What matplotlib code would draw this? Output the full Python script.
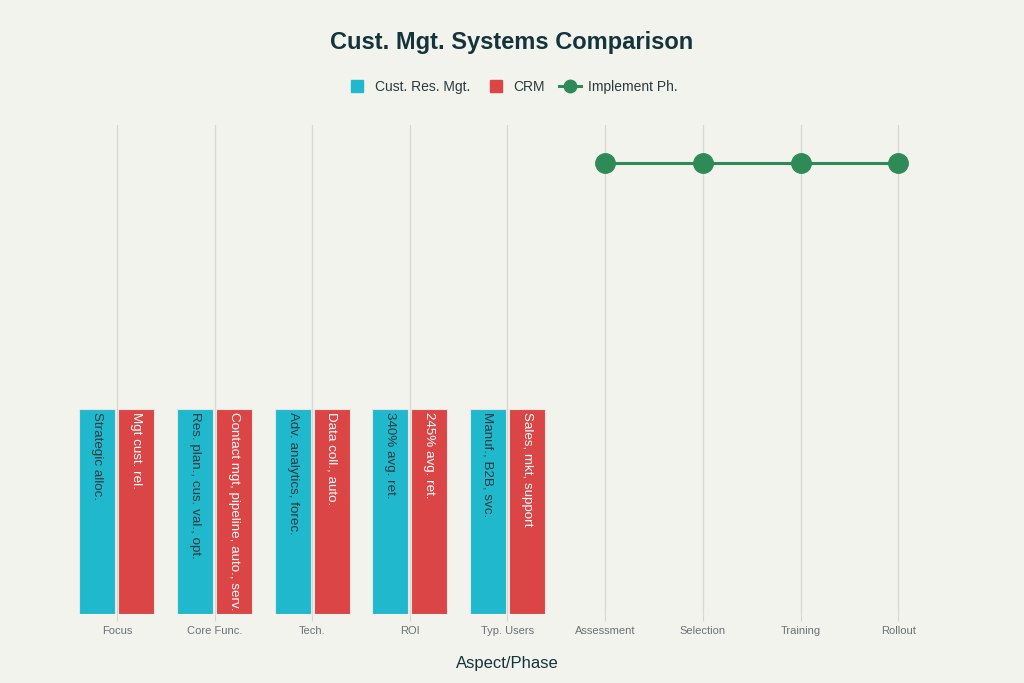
import matplotlib.pyplot as plt
from matplotlib.lines import Line2D
import numpy as np

plt.rcParams['font.family'] = ['Liberation Sans', 'DejaVu Sans']

categories = ["Focus", "Core Func.", "Tech.", "ROI", "Typ. Users",
              "Assessment", "Selection", "Training", "Rollout"]
aspects = categories[:5]
phases = categories[5:]

crm_res_vals = [1, 1, 1, 1, 1]
crm_vals = [1, 1, 1, 1, 1]
crm_res_text = ["Strategic alloc.", "Res. plan., cus. val., opt.",
                "Adv. analytics, forec.", "340% avg. ret.", "Manuf., B2B, svc."]
crm_text = ["Mgt cust. rel.", "Contact mgt, pipeline, auto., serv.",
            "Data coll., auto.", "245% avg. ret.", "Sales, mkt, support"]
phase_vals = [2.2, 2.2, 2.2, 2.2]

bg = "#F3F3EE"
cyan = "#1FB8CD"
red = "#DB4545"
green = "#2E8B57"
dark = "#13343B"


def main():
    fig = plt.figure(figsize=(10.24, 6.83), dpi=100, facecolor=bg)
    ax = fig.add_axes([68 / 1024, 1 - 614 / 683, 879 / 1024, 489 / 683])
    ax.set_facecolor(bg)

    x_all = np.arange(len(categories))
    xa = np.arange(len(aspects))
    xp = np.arange(len(aspects), len(categories))

    ax.bar(xa - 0.2, crm_res_vals, width=0.37, color=cyan,
           edgecolor="#E6E6E0", linewidth=0.8, zorder=3)
    ax.bar(xa + 0.2, crm_vals, width=0.37, color=red,
           edgecolor="#E6E6E0", linewidth=0.8, zorder=3)

    for i in range(len(aspects)):
        ax.text(xa[i] - 0.2, crm_res_vals[i] - 0.015, crm_res_text[i],
                rotation=-90, ha="center", va="top", fontsize=9.6,
                color="#2A3A3E", zorder=4)
        ax.text(xa[i] + 0.2, crm_vals[i] - 0.015, crm_text[i],
                rotation=-90, ha="center", va="top", fontsize=9.6,
                color="white", zorder=4)

    ax.plot(xp, phase_vals, color=green, linewidth=2.2, marker="o",
            markersize=14, zorder=5)

    ax.set_xlim(-0.5, len(categories) - 0.5)
    ax.set_ylim(0, 2.385)
    ax.set_xticks(x_all)
    ax.set_xticklabels(categories, fontsize=8, color="#6B7275")
    ax.tick_params(axis="x", length=5, color="#D5D5D0", pad=4)
    ax.set_yticks([])
    for s in ax.spines.values():
        s.set_visible(False)
    ax.grid(axis="x", color="#D8D8D3", linewidth=0.9, zorder=0)

    ax.set_xlabel("Aspect/Phase", fontsize=12, color=dark, labelpad=14)
    fig.text(0.5, 1 - 43 / 683, "Cust. Mgt. Systems Comparison",
             ha="center", va="center", fontsize=17, fontweight="bold", color=dark)

    handles = [
        Line2D([], [], linestyle="none", marker="s", markersize=8,
               color=cyan),
        Line2D([], [], linestyle="none", marker="s", markersize=8,
               color=red),
        Line2D([], [], color=green, linewidth=2.2, marker="o", markersize=9),
    ]
    labels = ["Cust. Res. Mgt.", "CRM", "Implement Ph."]
    leg = fig.legend(handles, labels, loc="center",
                     bbox_to_anchor=(0.5, 1 - 87 / 683), ncol=3,
                     frameon=False, fontsize=10, handlelength=1.6,
                     handletextpad=0.5, columnspacing=1.0)
    for t in leg.get_texts():
        t.set_color("#2A3A3E")

    fig.savefig("out.png", dpi=100, facecolor=bg)


if __name__ == "__main__":
    main()
